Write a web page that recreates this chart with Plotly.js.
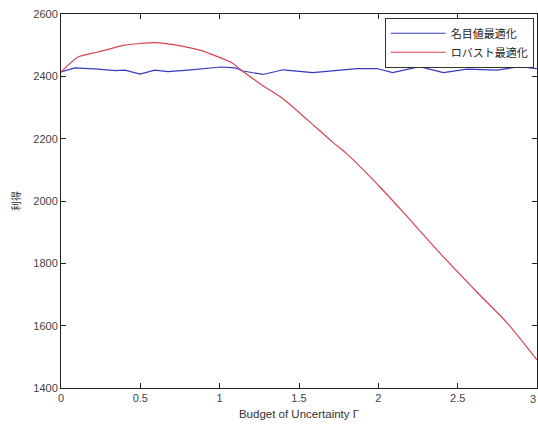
<!DOCTYPE html>
<html><head><meta charset="utf-8">
<script src="https://cdn.plot.ly/plotly-3.0.1.min.js"></script>
<style>html,body{margin:0;padding:0;background:#fff;}#chart{width:538px;height:426px;}</style>
</head><body><div id="chart"></div>
<script>
const seriesNames = ["名目値最適化", "ロバスト最適化"];
const nominalX = [0, 0.088, 0.233, 0.34, 0.403, 0.498, 0.592, 0.674, 0.80, 0.926, 1.01, 1.10, 1.147, 1.273, 1.40, 1.588, 1.758, 1.865, 1.99, 2.09, 2.26, 2.41, 2.56, 2.75, 2.89, 3.0];
const nominalY = [2414, 2427, 2423, 2418, 2420, 2407, 2420, 2415, 2420, 2427, 2430, 2427, 2417, 2406, 2421, 2412, 2421, 2425, 2425, 2412, 2431, 2412, 2423, 2420, 2431, 2425];
const robustX = [0, 0.107, 0.233, 0.403, 0.592, 0.762, 0.876, 0.926, 1.08, 1.128, 1.273, 1.399, 1.55, 1.714, 1.80, 2.01, 2.155, 2.388, 2.621, 2.81, 3.0];
const robustY = [2414, 2462, 2478, 2500, 2508, 2497, 2484, 2475, 2443, 2423, 2370, 2328, 2262, 2188, 2152, 2045, 1965, 1833, 1708, 1610, 1490];
const xTicks = [0, 0.5, 1, 1.5, 2, 2.5, 3];
const yTicks = [1400, 1600, 1800, 2000, 2200, 2400, 2600];

const tickFont = {family: "Liberation Sans, Arial, sans-serif", size: 11, color: "#444"};
const traces = [
  {x: nominalX, y: nominalY, name: seriesNames[0], mode: "lines", line: {color: "#3838c4", width: 1.2}},
  {x: robustX, y: robustY, name: seriesNames[1], mode: "lines", line: {color: "#d8444e", width: 1.2, shape: "spline", smoothing: 0.6}}
];
const axisCommon = {
  showgrid: false, zeroline: false, showline: true, mirror: "ticks",
  linecolor: "#222", linewidth: 1, ticks: "inside", ticklen: 5, tickcolor: "#222",
  tickfont: tickFont
};
const layout = {
  width: 538, height: 426,
  margin: {l: 61, r: 1, t: 14, b: 38},
  paper_bgcolor: "#fff", plot_bgcolor: "#fff",
  showlegend: true,
  legend: {x: 0.993, y: 0.99, xanchor: "right", yanchor: "top", bgcolor: "#fff",
    bordercolor: "#333", borderwidth: 1, itemwidth: 55,
    font: {family: "Noto Sans CJK JP, sans-serif", size: 11, color: "#222"},
    tracegroupgap: 0},
  xaxis: Object.assign({}, axisCommon, {range: [0, 3], tickvals: xTicks, ticktext: xTicks.map(String),
    title: {text: "Budget of Uncertainty Γ", standoff: 6, font: {family: "Liberation Sans, Arial, sans-serif", size: 11.5, color: "#333"}}}),
  yaxis: Object.assign({}, axisCommon, {range: [1400, 2600], tickvals: yTicks, ticktext: yTicks.map(String),
    title: {text: "利得", standoff: 10, font: {family: "Noto Sans CJK JP, sans-serif", size: 10, color: "#333"}}}),
  annotations: [{x: xTicks[xTicks.length - 1], y: 0, xref: "x", yref: "paper", yanchor: "top", xanchor: "right",
    yshift: -3, xshift: 1, text: String(xTicks[xTicks.length - 1]), showarrow: false, font: tickFont}]
};
Plotly.newPlot("chart", traces, layout, {displayModeBar: false, staticPlot: true});
</script></body></html>
